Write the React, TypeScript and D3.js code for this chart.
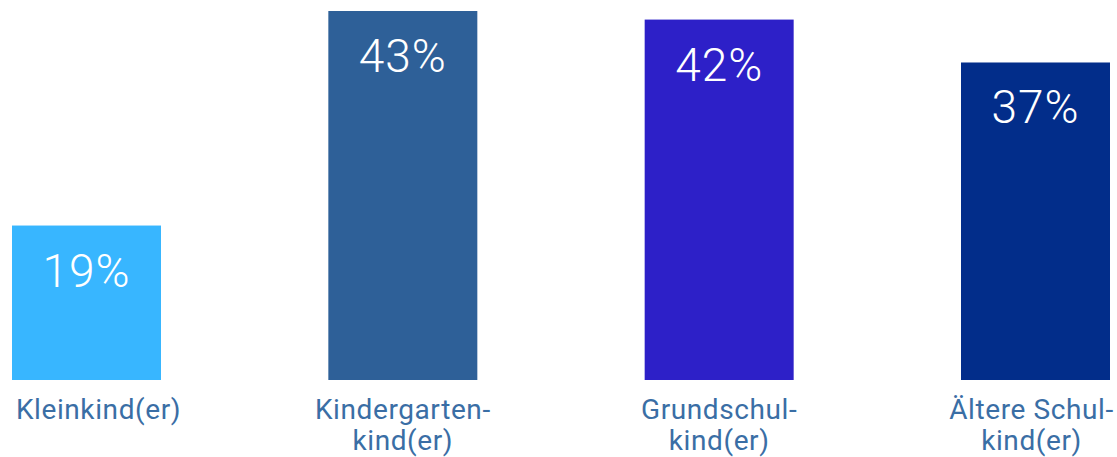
import React from "react";
import * as d3 from "d3";

const categories = ["Kleinkind(er)", "Kindergarten-kind(er)", "Grundschul-kind(er)", "Ältere Schul-kind(er)"];
const categoryLines = [["Kleinkind(er)"], ["Kindergarten-", "kind(er)"], ["Grundschul-", "kind(er)"], ["Ältere Schul-", "kind(er)"]];
const values = [18, 43, 42, 37];
const valueLabels = ["19%", "43%", "42%", "37%"];
const colors = ["#38b6ff", "#2e6098", "#2d20c8", "#022d8a"];

const W = 1117;
const H = 457;
const baseY = 380;

export default function App() {
  const x = d3.scaleBand<string>().domain(categories).range([12, 1110]).paddingInner(0.529).paddingOuter(0);
  const y = d3.scaleLinear().domain([0, 43]).range([baseY, 11]);
  const font = "Roboto, 'DejaVu Sans', sans-serif";
  const labelShift = [12, 0, 0, -4];
  return (
    <svg width={W} height={H} style={{ position: "absolute", left: 0, top: 0, background: "#fff" }}>
      {categories.map((c, i) => {
        const bx = x(c)!;
        const bw = x.bandwidth();
        const cx = bx + bw / 2;
        const top = y(values[i]);
        return (
          <g key={c}>
            <rect x={bx} y={top} width={bw} height={baseY - top} fill={colors[i]} />
            <text x={cx} y={top + 61} textAnchor="middle" fill="#fff" fontFamily={font} fontWeight={300} fontSize={46} letterSpacing={1}>
              {valueLabels[i]}
            </text>
            {categoryLines[i].map((line, j) => (
              <text key={j} x={cx + labelShift[i]} y={419 + j * 31} textAnchor="middle" fill="#3a6ea5" fontFamily={font} fontSize={28} letterSpacing={0.6}>
                {line}
              </text>
            ))}
          </g>
        );
      })}
    </svg>
  );
}
